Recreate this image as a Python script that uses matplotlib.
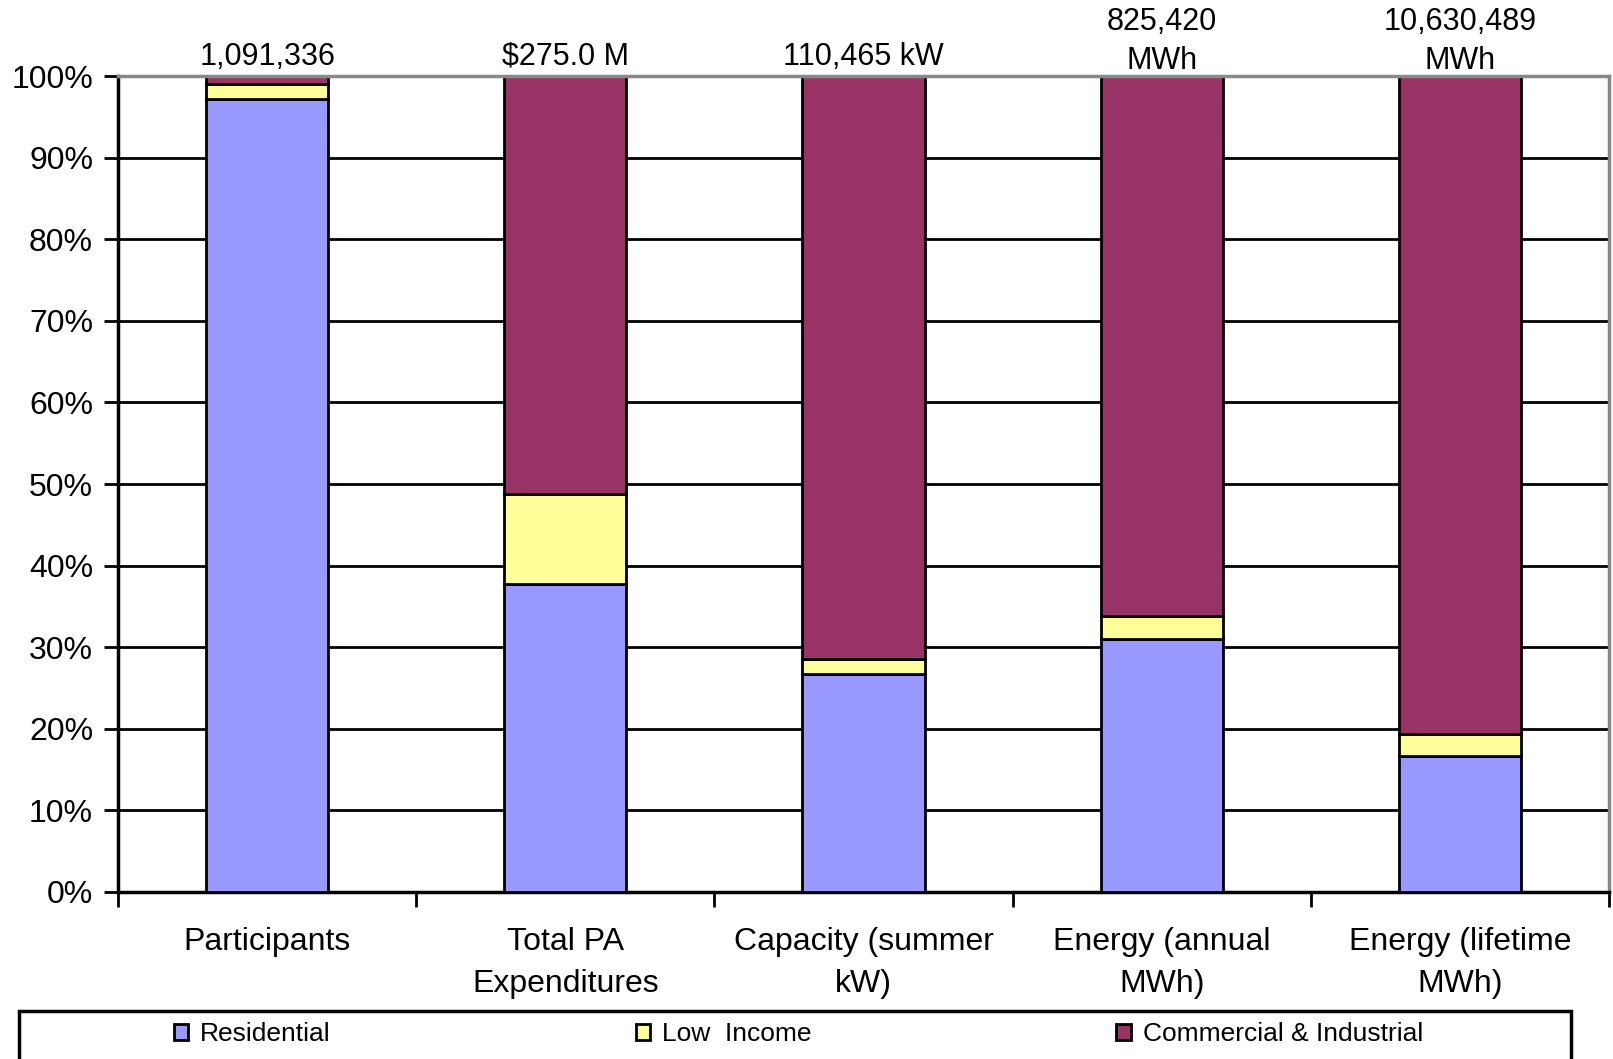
import numpy as np
import matplotlib
matplotlib.use("Agg")
import matplotlib.pyplot as plt
from matplotlib.patches import Rectangle

plt.rcParams['font.family'] = ['Liberation Sans', 'DejaVu Sans']

categories = ["Participants", "Total PA\nExpenditures", "Capacity (summer\nkW)",
              "Energy (annual\nMWh)", "Energy (lifetime\nMWh)"]
totals = ["1,091,336", "$275.0 M", "110,465 kW", "825,420\nMWh", "10,630,489\nMWh"]
residential = [97.2, 37.7, 26.7, 31.0, 16.7]
low_income = [1.8, 11.1, 1.9, 2.8, 2.7]
commercial = [1.0, 51.2, 71.4, 66.2, 80.6]

series = ["Residential", "Low  Income", "Commercial & Industrial"]
colors = ["#9999FF", "#FFFF99", "#993366"]

fig = plt.figure(figsize=(16.13, 10.59), dpi=100)
ax = fig.add_axes([0.0732, 0.1577, 0.9243, 0.7705])

x = np.arange(len(categories))
bottom = np.zeros(len(categories))
handles = []
for name, vals, c in zip(series, [residential, low_income, commercial], colors):
    b = ax.bar(x, vals, 0.41, bottom=bottom, color=c, edgecolor="black",
               linewidth=2, label=name, zorder=3)
    handles.append(b)
    bottom = bottom + np.array(vals)

ax.set_xlim(-0.5, len(categories) - 0.5)
ax.set_ylim(0, 100)
ax.set_yticks(np.arange(0, 101, 10))
ax.set_yticklabels([f"{v}%" for v in range(0, 101, 10)], fontsize=23)
ax.tick_params(axis="y", length=10, width=2, pad=8)

ax.set_xticks(x)
ax.set_xticklabels(categories, fontsize=23, linespacing=1.52)
ax.set_xticks(np.arange(-0.5, len(categories)), minor=True)
ax.tick_params(axis="x", which="major", length=0, pad=25)
ax.tick_params(axis="x", which="minor", length=11, width=2)

ax.set_axisbelow(True)
ax.yaxis.grid(True, color="black", linewidth=2)

for s in ["left", "bottom"]:
    ax.spines[s].set_color("black")
    ax.spines[s].set_linewidth(2.5)
for s in ["top", "right"]:
    ax.spines[s].set_color("#888888")
    ax.spines[s].set_linewidth(2.5)
ax.spines["top"].set_zorder(4)

# totals above each column
for i, t in enumerate(totals):
    off = 0 if "\n" in t else 3
    ax.annotate(t, (i, 100), xytext=(0, off), textcoords="offset points",
                ha="center", va="bottom", fontsize=22, linespacing=1.41,
                annotation_clip=False)

# legend box running off the bottom edge
fig.patches.append(Rectangle((0.0115, -0.05), 0.9625, 0.0953, transform=fig.transFigure,
                             facecolor="white", edgecolor="black", linewidth=2.5))
fig.legend(handles=handles, loc="center left", bbox_to_anchor=(0.093, 0.0235),
           ncol=3, frameon=False, fontsize=19, handlelength=0.55, handleheight=0.55,
           handletextpad=0.45, columnspacing=11.55)

fig.savefig("out.png", dpi=100)
